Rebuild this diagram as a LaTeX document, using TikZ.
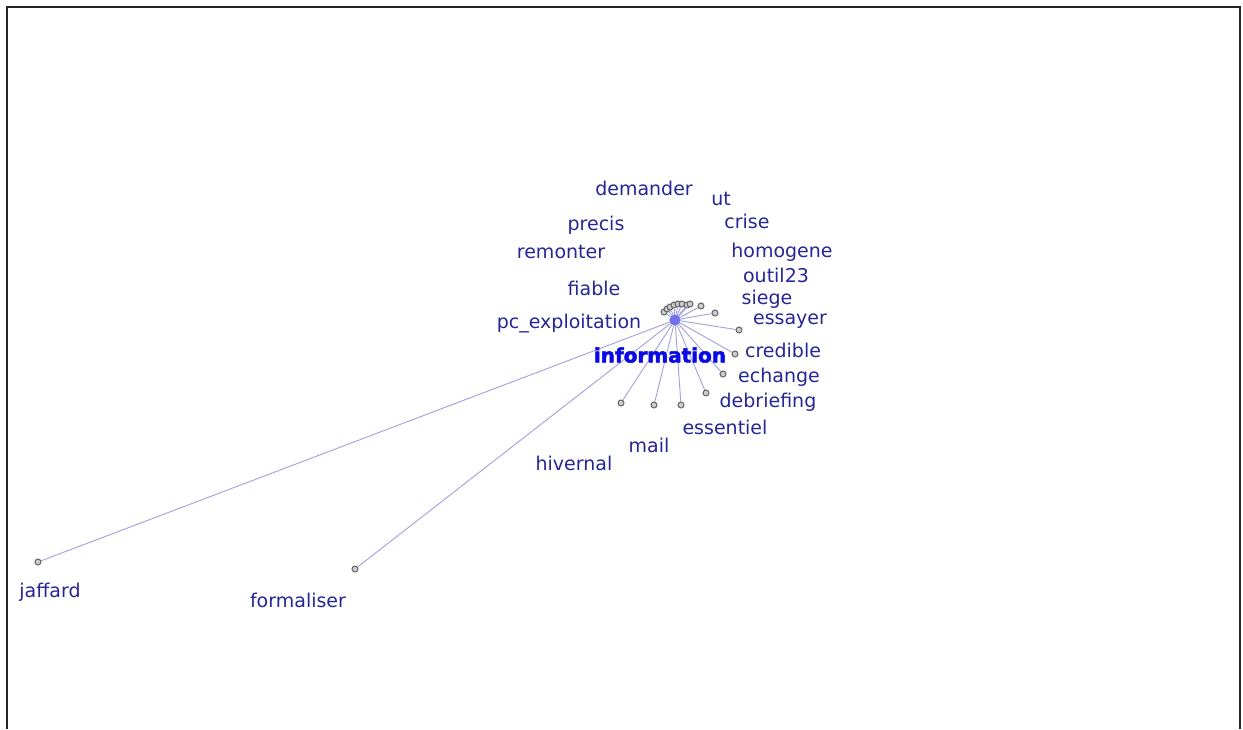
\documentclass[tikz,border=0pt]{standalone}
\usepackage{fontspec}
\setmainfont{DejaVu Sans}
\newfontfamily\heavyfont[RawFeature={embolden=2.5}]{DejaVu Sans Bold}
\usepackage{tikz}
\usetikzlibrary{positioning}

\definecolor{wordblue}{RGB}{38,38,150}
\definecolor{hubblue}{RGB}{10,10,230}
\definecolor{linkblue}{RGB}{160,160,222}
\definecolor{dotgray}{RGB}{205,205,205}
\definecolor{dotrim}{RGB}{100,100,100}

\begin{document}
\begin{tikzpicture}[
    x=1pt, y=-1pt,
    word/.style={
        text=wordblue,
        inner sep=1pt,
        font=\fontsize{19}{21}\selectfont
    },
    hubword/.style={
        text=hubblue,
        inner sep=1pt,
        font=\heavyfont\fontsize{20}{22}\selectfont
    },
    leaf/.style={
        circle,
        draw=dotrim,
        fill=dotgray,
        line width=1pt,
        minimum size=6pt,
        inner sep=0pt
    },
    hub/.style={
        circle,
        fill=linkblue!70!blue,
        minimum size=11pt,
        inner sep=0pt
    },
    link/.style={
        draw=linkblue,
        line width=0.9pt
    }
]

\useasboundingbox (0,0) rectangle (1243,729);
\draw[line width=2pt, black!85] (7,729) -- (7,7) -- (1240,7) -- (1240,729);

% the hub and its leaves
\node[hub]  (information) at (675,320) {};

\node[leaf] (pc)        at (664,312) {};
\node[leaf] (fiable)    at (667,309) {};
\node[leaf] (remonter)  at (670,307) {};
\node[leaf] (precis)    at (674,305) {};
\node[leaf] (demander)  at (678,304) {};
\node[leaf] (ut)        at (682,304) {};
\node[leaf] (crise)     at (687,305) {};
\node[leaf] (homogene)  at (690,304) {};
\node[leaf] (outil)     at (701,306) {};
\node[leaf] (siege)     at (715,313) {};
\node[leaf] (essayer)   at (739,330) {};
\node[leaf] (credible)  at (735,354) {};
\node[leaf] (echange)   at (723,374) {};
\node[leaf] (debrief)   at (706,393) {};
\node[leaf] (essentiel) at (681,405) {};
\node[leaf] (mail)      at (654,405) {};
\node[leaf] (hivernal)  at (621,403) {};
\node[leaf] (jaffard)   at (38,562) {};
\node[leaf] (formaliser) at (355,569) {};

\foreach \t in {pc,fiable,remonter,precis,demander,ut,crise,homogene,
                outil,siege,essayer,credible,echange,debrief,essentiel,
                mail,hivernal,jaffard,formaliser}
    \draw[link] (information) -- (\t);

\node[hub] at (information) {};

% labels
\node[word] (demander-lbl)   at (644,188) {demander};
\node[word] (ut-lbl)         at (721,199) {ut};
\node[word] (precis-lbl)     at (596,225) {precis};
\node[word] (crise-lbl)      at (747,221) {crise};
\node[word] (remonter-lbl)   at (561,252) {remonter};
\node[word] (homogene-lbl)   at (782,252) {homogene};
\node[word] (outil-lbl)      at (776,275) {outil23};
\node[word] (fiable-lbl)     at (594,288) {fiable};
\node[word] (siege-lbl)      at (767,299) {siege};
\node[word] (pc-lbl)         at (569,324) {pc\_exploitation};
\node[word] (essayer-lbl)    at (790,321) {essayer};
\node[hubword] (information-lbl) at (660,355) {information};
\node[word] (credible-lbl)   at (783,350) {credible};
\node[word] (echange-lbl)    at (779,377) {echange};
\node[word] (debrief-lbl)    at (768,402) {debriefing};
\node[word] (essentiel-lbl)  at (725,427) {essentiel};
\node[word] (mail-lbl)       at (649,445) {mail};
\node[word] (hivernal-lbl)   at (574,463) {hivernal};
\node[word] (jaffard-lbl)    at (50,592)  {jaffard};
\node[word] (formaliser-lbl) at (298,600) {formaliser};

\end{tikzpicture}
\end{document}
